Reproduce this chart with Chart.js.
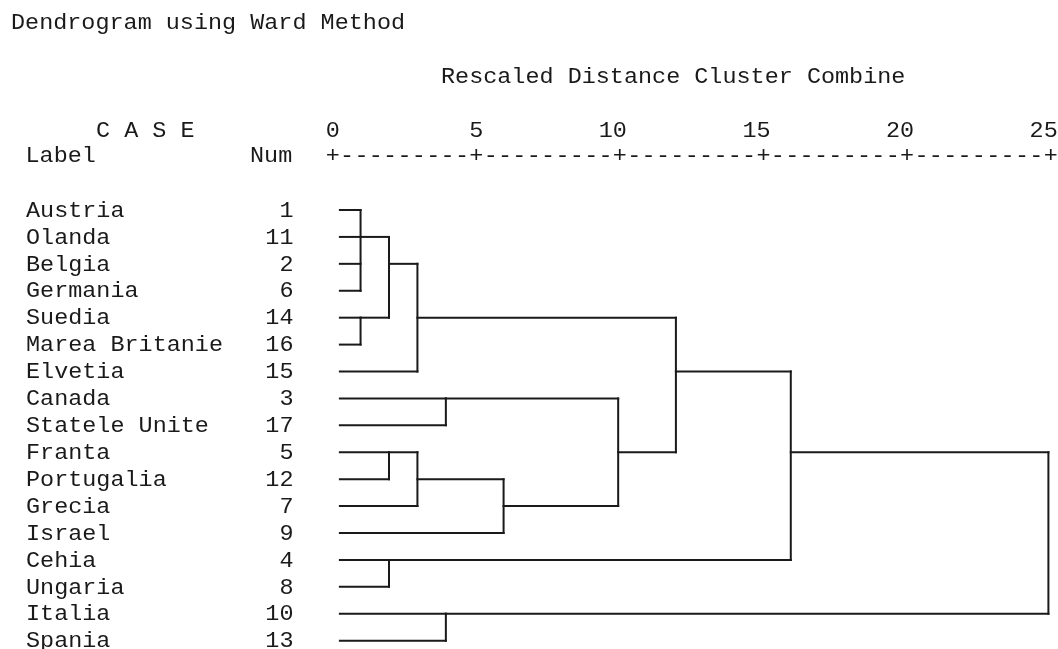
<!DOCTYPE html>
<html>
<head>
<meta charset="utf-8">
<script src="https://cdn.jsdelivr.net/npm/chart.js@4"></script>
<style>
  html, body { margin: 0; padding: 0; background: #fff; }
  #wrap { width: 1058px; height: 649px; position: relative; }
</style>
</head>
<body>
<div id="wrap"><canvas id="dendro"></canvas></div>
<script>
const caseLabels = ['Austria', 'Olanda', 'Belgia', 'Germania', 'Suedia', 'Marea Britanie', 'Elvetia',
  'Canada', 'Statele Unite', 'Franta', 'Portugalia', 'Grecia', 'Israel', 'Cehia', 'Ungaria', 'Italia', 'Spania'];
const caseNums = [1, 11, 2, 6, 14, 16, 15, 3, 17, 5, 12, 7, 9, 4, 8, 10, 13];
const axisTicks = [0, 5, 10, 15, 20, 25];
const leafStart = 0.25;
// merge steps: height on the rescaled axis, members (L = case row, M = earlier merge), row the link leaves from
const mergeHeights = [0.97, 0.97, 1.96, 2.95, 3.94, 1.96, 2.95, 5.95, 9.94, 11.95, 1.96, 15.95, 3.94, 24.92];
const mergeChildren = [
  ['L0', 'L1', 'L2', 'L3'], ['L4', 'L5'], ['M0', 'M1'], ['M2', 'L6'], ['L7', 'L8'],
  ['L9', 'L10'], ['M5', 'L11'], ['M6', 'L12'], ['M4', 'M7'], ['M3', 'M8'],
  ['L13', 'L14'], ['M9', 'M10'], ['L15', 'L16'], ['M11', 'M12'],
];
const mergeRows = [1, 4, 2, 4, 7, 9, 10, 11, 9, 6, 13, 9, 15, 12];

const INK = '#1a1a1a';
const PITCH = 14.07;
const FONT_PX = 22;

function childRow(c) {
  const i = +c.slice(1);
  return c[0] === 'L' ? i : mergeRows[i];
}
function childHeight(c) {
  const i = +c.slice(1);
  return c[0] === 'L' ? leafStart : mergeHeights[i];
}

const segments = [];
mergeChildren.forEach((kids, m) => {
  const h = mergeHeights[m];
  const rows = kids.map(childRow);
  kids.forEach((k) => {
    segments.push([{ x: childHeight(k), y: childRow(k) }, { x: h, y: childRow(k) }]);
  });
  segments.push([{ x: h, y: Math.min(...rows) }, { x: h, y: Math.max(...rows) }]);
});

function mono(ctx, str, x, y) {
  ctx.save();
  ctx.translate(x, y);
  ctx.scale(PITCH / (FONT_PX * 0.6), 1);
  ctx.fillText(str, 0, 0);
  ctx.restore();
}

const textPlugin = {
  id: 'spssText',
  afterDraw(chart) {
    const { ctx, scales } = chart;
    const xs = scales.x, ys = scales.y;
    ctx.save();
    ctx.fillStyle = INK;
    ctx.font = `${FONT_PX}px "Liberation Mono", "DejaVu Sans Mono", monospace`;
    ctx.textBaseline = 'alphabetic';
    ctx.textAlign = 'left';

    mono(ctx, 'Dendrogram using Ward Method', 11, 28.5);
    mono(ctx, 'Rescaled Distance Cluster Combine', 441, 82.5);
    mono(ctx, 'C A S E', 96, 137);
    mono(ctx, 'Label', 25.5, 162);
    mono(ctx, 'Num', 250, 162);

    // ruler and its numbers
    axisTicks.forEach((t, i) => {
      const px = xs.getPixelForValue(t);
      const s = String(t);
      mono(ctx, s, px + PITCH / 2 - s.length * PITCH, 137);
      mono(ctx, '+', px - PITCH / 2, 162);
      if (i < axisTicks.length - 1) {
        const next = xs.getPixelForValue(axisTicks[i + 1]);
        const step = (next - px) / 10;
        for (let k = 1; k < 10; k++) mono(ctx, '-', px + k * step - PITCH / 2, 162);
      }
    });

    caseLabels.forEach((lab, i) => {
      const py = ys.getPixelForValue(i) + 6.7;
      mono(ctx, lab, 26, py);
      const n = String(caseNums[i]);
      mono(ctx, n, 293.5 - n.length * PITCH, py);
    });
    ctx.restore();
  },
};

new Chart(document.getElementById('dendro'), {
  type: 'scatter',
  data: {
    datasets: segments.map((seg) => ({
      data: seg,
      showLine: true,
      borderColor: INK,
      borderWidth: 2,
      borderCapStyle: 'square',
      pointRadius: 0,
      clip: false,
    })),
  },
  options: {
    responsive: true,
    maintainAspectRatio: false,
    animation: false,
    layout: { padding: { left: 332.7, right: 7.3, top: 210, bottom: 8.3 } },
    plugins: { legend: { display: false }, tooltip: { enabled: false } },
    scales: {
      x: { type: 'linear', min: 0, max: 25, display: false },
      y: { type: 'linear', min: 0, max: 16, reverse: true, display: false },
    },
  },
  plugins: [textPlugin],
});
</script>
</body>
</html>
